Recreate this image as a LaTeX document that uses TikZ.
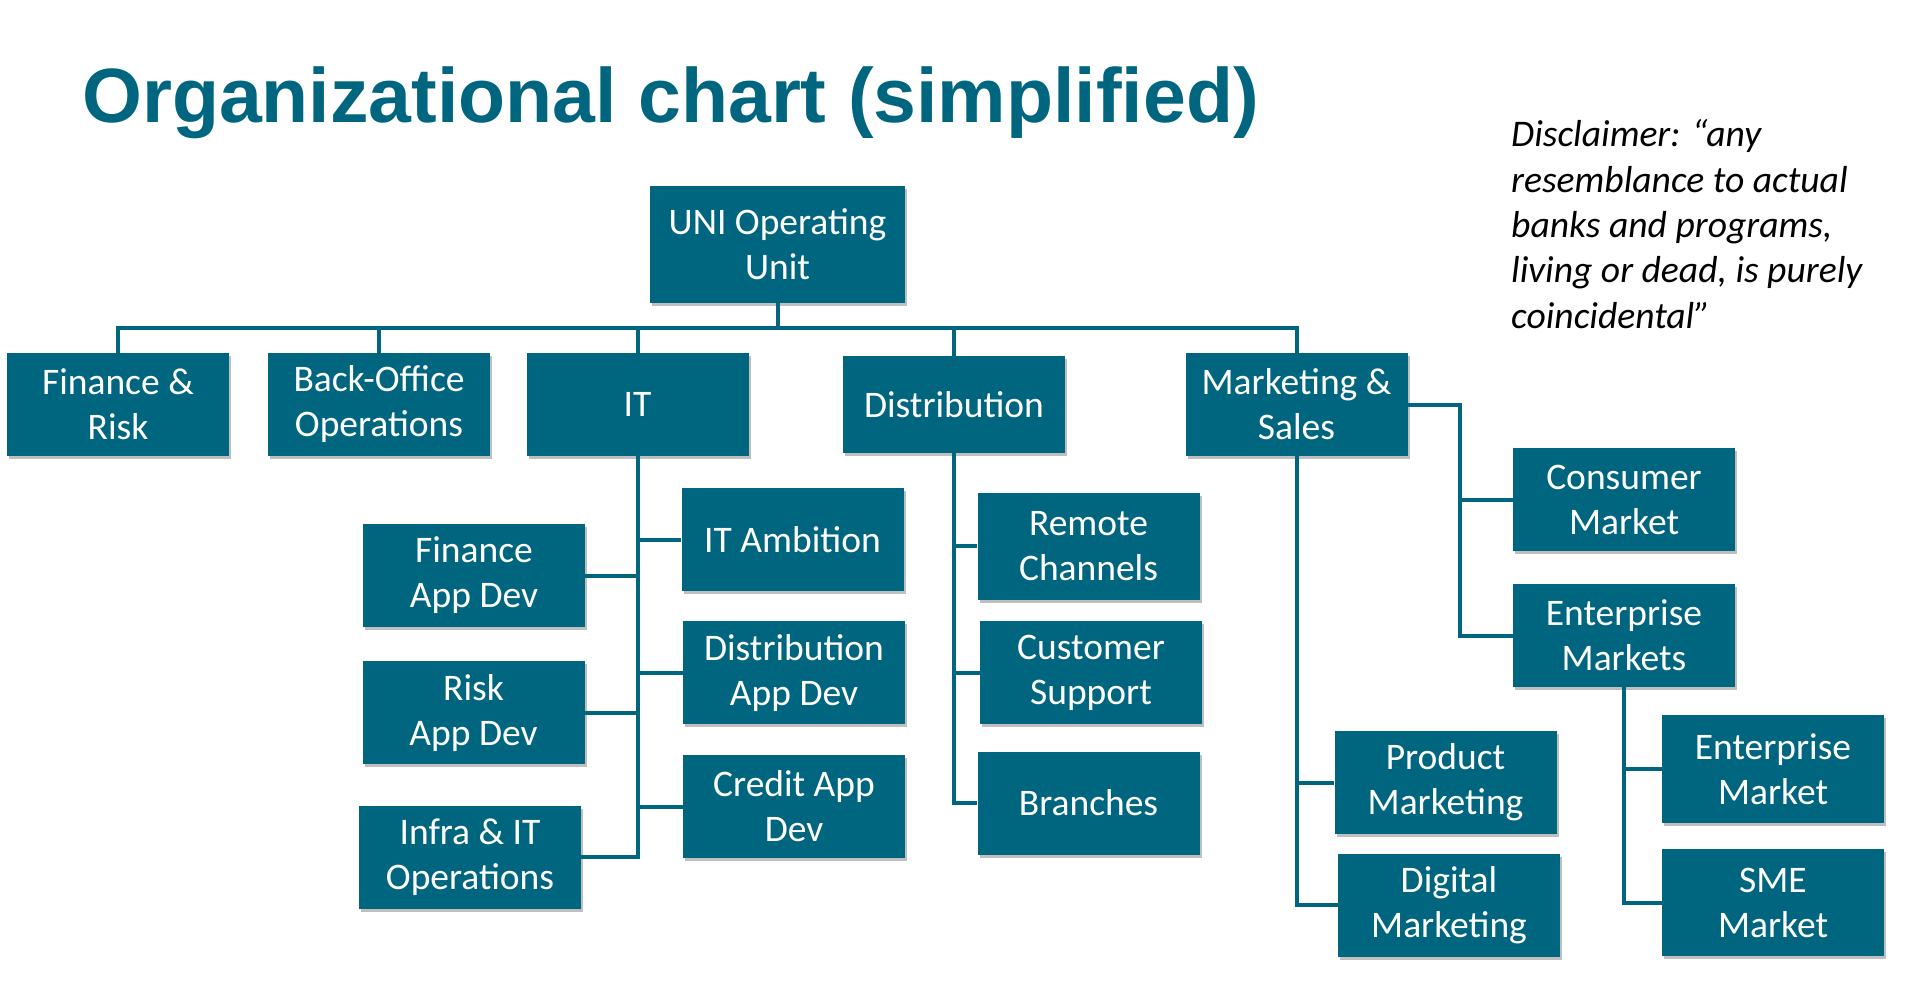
\documentclass[tikz,border=0pt]{standalone}
\usepackage{fontspec}
\setmainfont{Carlito}
\newfontfamily\titlefont{Liberation Sans}
\usetikzlibrary{shadows}
\definecolor{teal}{RGB}{0,102,128}
\begin{document}
\begin{tikzpicture}[x=1pt,y=-1pt,
  box/.style={rectangle, fill=teal, text=white, inner sep=0pt, align=center,
    minimum width=222pt, minimum height=103pt,
    font=\fontsize{37.5}{45}\selectfont,
    drop shadow={shadow xshift=2pt, shadow yshift=-3pt, opacity=0.25, fill=black}},
  conn/.style={draw=teal, line width=4pt, line join=miter}]
\useasboundingbox (0,0) rectangle (1906,984);
% title
\node[anchor=base west, inner sep=0pt, text=teal, font=\titlefont\bfseries\fontsize{77}{77}\selectfont] (title) at (82,123) {Organizational chart (simplified)};
% disclaimer (base anchor = last line)
\node[anchor=base west, inner sep=0pt, align=left, font=\itshape\fontsize{37.6}{45.3}\selectfont] (disc) at (1511,328)
  {Disclaimer: “any\\resemblance to actual\\banks and programs,\\living or dead, is purely\\coincidental”};
% top
\node[box, minimum width=255pt, minimum height=117pt] (uni) at (777.5,244.5) {UNI Operating\\Unit};
% level 1
\node[box] (fin) at (118,404.5) {Finance \&\\Risk};
\node[box] (bo) at (379,404.5) {Back-Office\\Operations};
\node[box] (it) at (637.5,404.5) {IT};
\node[box, minimum height=97pt] (dist) at (954,404.5) {Distribution};
\node[box] (mkt) at (1296.5,404.5) {Marketing \&\\Sales};
% IT children
\node[box] (itamb) at (792.5,539.5) {IT Ambition};
\node[box] (distapp) at (794,672.5) {Distribution\\App Dev};
\node[box] (credit) at (794,806.5) {Credit App\\Dev};
\node[box] (finapp) at (474,575.5) {Finance\\App Dev};
\node[box] (riskapp) at (473.5,712.5) {Risk\\App Dev};
\node[box] (infra) at (470,857) {Infra \& IT\\Operations};
% Distribution children
\node[box, minimum height=107pt] (remote) at (1088.5,546) {Remote\\Channels};
\node[box] (cust) at (1091,672.5) {Customer\\Support};
\node[box] (branch) at (1088.5,803) {Branches};
% Marketing children
\node[box] (prod) at (1445.5,782.5) {Product\\Marketing};
\node[box] (digi) at (1449,905) {Digital\\Marketing};
\node[box] (cons) at (1624,499.5) {Consumer\\Market};
\node[box] (ents) at (1624,635.5) {Enterprise\\Markets};
\node[box, minimum height=108pt] (ent) at (1773,769) {Enterprise\\Market};
\node[box, minimum height=107pt] (sme) at (1773,902.5) {SME\\Market};
% connectors
\coordinate (bus) at (0,328);
\draw[conn] (uni.south) -- (uni.south |- bus) -| (fin.north);
\draw[conn] (uni.south |- bus) -| (bo.north);
\draw[conn] (uni.south |- bus) -| (it.north);
\draw[conn] (uni.south |- bus) -| (dist.north);
\draw[conn] (uni.south |- bus) -| (mkt.north);
\draw[conn] (it.south) |- (infra.east);
\draw[conn] (it.south) |- (finapp.east);
\draw[conn] (it.south) |- (riskapp.east);
\draw[conn] (it.south) |- (itamb.west);
\draw[conn] (it.south) |- (distapp.west);
\draw[conn] (it.south) |- (credit.west);
\draw[conn] (dist.south) |- (branch.west);
\draw[conn] (dist.south) |- (remote.west);
\draw[conn] (dist.south) |- (cust.west);
\draw[conn] (mkt.south) |- (digi.west);
\draw[conn] (mkt.south) |- (prod.west);
\coordinate (mr) at (1460,404.5);
\draw[conn] (mkt.east) -- (mr) |- (ents.west);
\draw[conn] (mr) |- (cons.west);
\draw[conn] (ents.south) |- (sme.west);
\draw[conn] (ents.south) |- (ent.west);
\end{tikzpicture}
\end{document}
